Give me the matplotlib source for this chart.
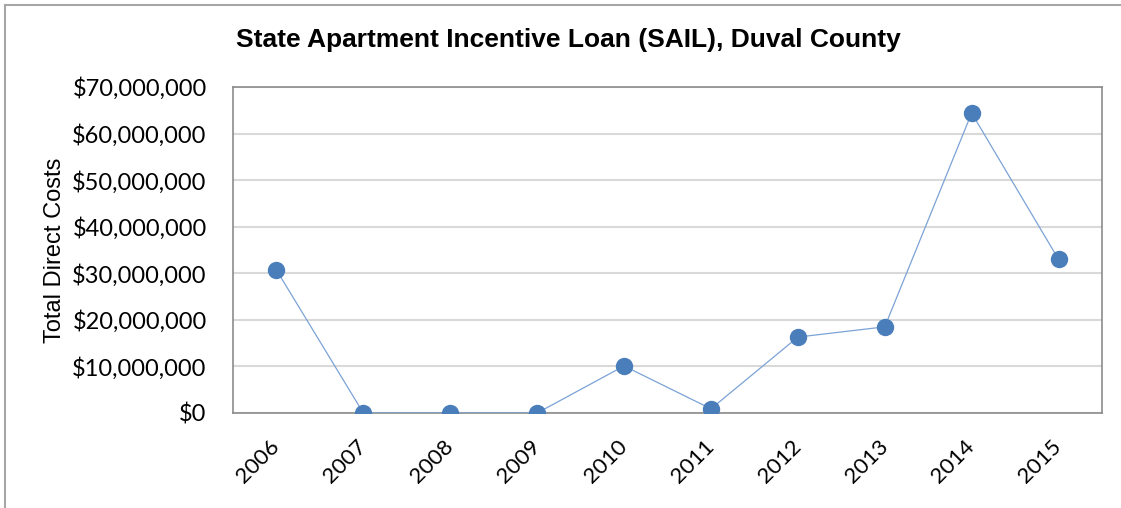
import matplotlib
matplotlib.use("Agg")
import matplotlib.pyplot as plt
from matplotlib.ticker import FuncFormatter, MultipleLocator
from matplotlib.lines import Line2D

years = ["2006", "2007", "2008", "2009", "2010", "2011", "2012", "2013", "2014", "2015"]
costs = [30700000, 0, 0, 0, 10100000, 900000, 16300000, 18500000, 64400000, 33000000]

fig = plt.figure(figsize=(11.21, 5.08), dpi=100)
ax = fig.add_axes([233/1121, 1-413/508, (1102-233)/1121, (413-87)/508])

x = list(range(len(years)))
ax.plot(x, costs, color="#7ba3d6", lw=0.9, zorder=3)
ax.plot(x, costs, linestyle="none", marker="o", ms=11.5, color="#4a7ebb", zorder=4, clip_on=True)

ax.set_xlim(-0.5, len(years) - 0.5)
ax.set_ylim(0, 70000000)
ax.yaxis.set_major_locator(MultipleLocator(10000000))
ax.yaxis.set_major_formatter(FuncFormatter(lambda v, p: "${:,.0f}".format(v)))
ax.set_xticks(x)
ax.set_xticklabels(years, rotation=45, ha="right", va="center", rotation_mode="anchor")
ax.grid(axis="y", color="#d9d9d9", lw=1.5)
ax.set_axisbelow(True)
for s in ax.spines.values():
    s.set_color("#8c8c8c")
    s.set_linewidth(1.2)
ax.tick_params(axis="y", length=0, labelsize=17, pad=19)
ax.tick_params(axis="x", length=0, labelsize=16, pad=22)
for lab in ax.get_xticklabels() + ax.get_yticklabels():
    lab.set_fontfamily("Lato")

ax.set_ylabel("Total Direct Costs", fontsize=17, fontfamily="Liberation Sans")
ax.yaxis.set_label_coords((66 - 233) / (1102 - 233), 0.5)
fig.text(568/1121, 1-40/508, "State Apartment Incentive Loan (SAIL), Duval County",
         ha="center", va="center", fontsize=19, fontweight="bold", fontfamily="Liberation Sans")

bx, by = 4.5/1121, 1 - 4.5/508
fig.lines.append(Line2D([bx, bx], [0, by], transform=fig.transFigure, color="#a6a6a6", lw=1.5))
fig.lines.append(Line2D([bx, 1], [by, by], transform=fig.transFigure, color="#a6a6a6", lw=1.5))
fig.savefig("out.png", dpi=100)
